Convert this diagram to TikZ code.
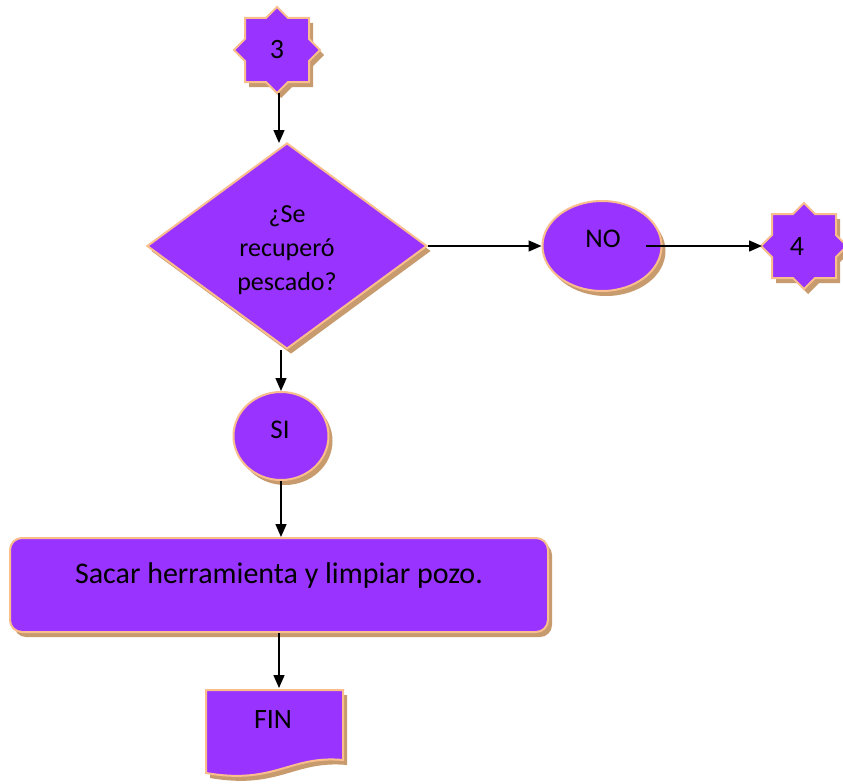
\documentclass[tikz,border=0pt]{standalone}
\usepackage{fontspec}
\setmainfont{Carlito}
\usetikzlibrary{shapes.geometric,shadows,arrows.meta}
\definecolor{fillp}{RGB}{153,51,255}
\definecolor{edgep}{RGB}{250,190,140}
\definecolor{shad}{RGB}{200,155,110}
\newcommand{\eightstar}{(0,-43) -- (11,-32) -- (32,-32) -- (32,-11) -- (43,0) -- (32,11) -- (32,32) -- (11,32) -- (0,43) -- (-11,32) -- (-32,32) -- (-32,11) -- (-43,0) -- (-32,-11) -- (-32,-32) -- (-11,-32) -- cycle}
\begin{document}
\begin{tikzpicture}[x=1pt,y=-1pt,
  shp/.style={fill=fillp, draw=edgep, line width=2pt,
    drop shadow={shadow xshift=4pt, shadow yshift=-5pt, fill=shad, opacity=1}},
  conn/.style={-{Triangle[length=13pt,width=11pt]}, line width=1.5pt, black},
  lbl/.style={align=center, text=black, inner sep=0pt}]
\useasboundingbox[fill=white] (0,0) rectangle (843,784);

% star 3
\path[shp, shift={(277,50)}] \eightstar;
\node[lbl, font=\fontsize{28}{30}\selectfont] (s3) at (277,50) {3};
\coordinate (s3b) at (279,93);

% decision
\node[shp, diamond, minimum width=280pt, minimum height=206pt, inner sep=0pt] (q) at (287,246) {};
\node[lbl, font=\fontsize{26}{34}\selectfont] (qt) at (287,250) {¿Se\\recuperó\\pescado?};
\coordinate (qtop) at (279,143);

% NO ellipse
\node[shp, ellipse, minimum width=119pt, minimum height=90pt, inner sep=0pt] (no) at (602,246) {};
\node[lbl, font=\fontsize{27}{30}\selectfont] (not) at (603,239) {NO};
\coordinate (noout) at (646,246);

% star 4
\path[shp, shift={(804,246)}] \eightstar;
\node[lbl, font=\fontsize{28}{30}\selectfont] (s4) at (797,247) {4};
\coordinate (s4w) at (762,246);

% SI circle
\node[shp, ellipse, minimum width=95pt, minimum height=88pt, inner sep=0pt] (si) at (281,436) {};
\node[lbl, font=\fontsize{27}{30}\selectfont] (sit) at (280,430) {SI};

% process box
\node[shp, rounded corners=12pt, minimum width=538pt, minimum height=94pt, inner sep=0pt] (box) at (279,585) {};
\node[lbl, font=\fontsize{30}{32}\selectfont] (boxt) at (279,575) {Sacar herramienta y limpiar pozo.};

% FIN document
\path[shp] (206,690) -- (343,690) -- (343,760) .. controls (290,755) and (275,785) .. (206,773) -- cycle;
\node[lbl, font=\fontsize{28}{30}\selectfont] (fin) at (273,720) {FIN};
\coordinate (fintop) at (279,688);

% connectors
\draw[conn] (s3b) -- (qtop);
\draw[conn] (q.east) -- (no.west);
\draw[conn] (noout) -- (s4w);
\draw[conn] (q.south -| si.north) -- (si.north);
\draw[conn] (si.south) -- (box.north -| si.south);
\draw[conn] (box.south -| fintop) -- (fintop);
\end{tikzpicture}
\end{document}
